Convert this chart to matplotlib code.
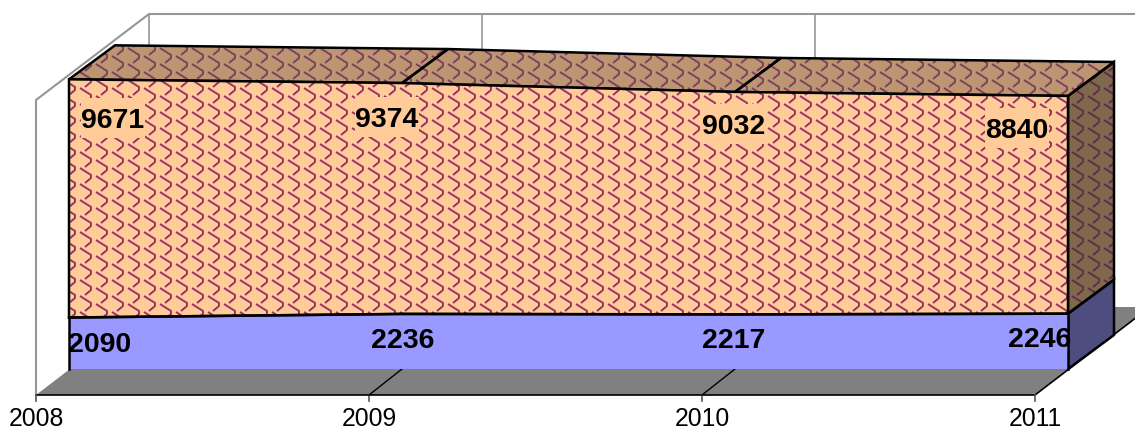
import matplotlib
matplotlib.use('Agg')
import matplotlib.pyplot as plt
from matplotlib.collections import LineCollection
from matplotlib.patches import Polygon, Rectangle
import numpy as np

years = ['2008', '2009', '2010', '2011']
lower = [2090, 2236, 2217, 2246]
upper = [9671, 9374, 9032, 8840]

# pixel geometry of the fake 3d box
X0, STEP = 69, 333
Y0, SCALE = 369, 0.02463
DX, DY = 46, -34
FLOOR_X, FLOOR_Y = 36, 395
WALL_DX, WALL_DY = 113, -86
WALL_H = 295

PEACH = '#FFCC99'
BLUE = '#9999FF'
FLOOR = '#808080'
GREY = '#969696'

plt.rcParams['font.family'] = ['Liberation Sans', 'DejaVu Sans']

fig = plt.figure(figsize=(11.35, 4.3), dpi=100)
ax = fig.add_axes([0, 0, 1, 1])
ax.set_xlim(0, 1135)
ax.set_ylim(430, 0)
ax.axis('off')


# category index + value + depth (0 front, 1 back) -> pixel position
def pt(i, v, d=0):
    return (X0 + STEP * i + DX * d, Y0 - SCALE * v + DY * d)


# scale pattern drawn over a polygon and clipped to it
def shingles(poly, color, z):
    segs = []
    for col in range(-2, 75):
        for row in range(-45, 30):
            x = col * 16
            y = row * 16 + col * 8
            segs.append([(x, y), (x + 11, y + 7), (x + 11, y + 10), (x + 5, y + 15)])
    lc = LineCollection(segs, colors=color, linewidths=1.4, zorder=z)
    ax.add_collection(lc)
    lc.set_clip_path(poly)


def face(points, color, z, hatch=None):
    poly = Polygon(points, closed=True, facecolor=color, edgecolor='none', zorder=z)
    ax.add_patch(poly)
    if hatch:
        shingles(poly, hatch, z + 0.1)
    ax.add_patch(Polygon(points, closed=True, facecolor='none', edgecolor='black', linewidth=1.8, zorder=z + 0.2))


n = len(years)
totals = [a + b for a, b in zip(lower, upper)]

# walls
wall_top = FLOOR_Y - WALL_H
ax.plot([FLOOR_X, FLOOR_X, FLOOR_X + WALL_DX, 1135], [FLOOR_Y, wall_top, wall_top + WALL_DY, wall_top + WALL_DY],
        color=GREY, lw=1.5, zorder=1, solid_joinstyle='miter')
for i in range(n - 1):
    gx = FLOOR_X + WALL_DX + STEP * i
    ax.plot([gx, gx], [wall_top + WALL_DY, FLOOR_Y + WALL_DY], color=GREY, lw=1.2, zorder=1)

# floor
end_x = FLOOR_X + STEP * (n - 1)
floor_pts = [(FLOOR_X, FLOOR_Y), (end_x, FLOOR_Y), (end_x + 115, FLOOR_Y - 88), (FLOOR_X + 115, FLOOR_Y - 88)]
ax.add_patch(Polygon(floor_pts, closed=True, facecolor=FLOOR, edgecolor='none', zorder=2))
ax.plot([FLOOR_X, end_x], [FLOOR_Y, FLOOR_Y], color='black', lw=1.2, zorder=3)
ax.plot([end_x, end_x + 115], [FLOOR_Y, FLOOR_Y - 88], color='black', lw=1.2, zorder=3)
for i in range(n):
    tx = FLOOR_X + STEP * i
    ax.plot([tx, tx], [FLOOR_Y, FLOOR_Y + 6], color='#555555', lw=1.2, zorder=3)
    if 0 < i < n - 1:
        ax.plot([tx, tx + 33], [FLOOR_Y, Y0], color='black', lw=1.0, zorder=3)
    ax.text(tx, 419, years[i], fontsize=17.8, ha='center', va='center', color='black', zorder=9)

# top faces
for i in range(n - 1):
    face([pt(i, totals[i]), pt(i + 1, totals[i + 1]), pt(i + 1, totals[i + 1], 1), pt(i, totals[i], 1)],
         '#BC9670', 4, '#7E3F62')

# right side
last = n - 1
face([pt(last, lower[last]), pt(last, totals[last]), pt(last, totals[last], 1), pt(last, lower[last], 1)],
     '#80684D', 4, '#5E2F4A')
face([pt(last, 0), pt(last, lower[last]), pt(last, lower[last], 1), pt(last, 0, 1)], '#4D4D80', 4)

# front faces
xs = list(range(n))
upper_pts = [pt(i, lower[i]) for i in xs] + [pt(i, totals[i]) for i in reversed(xs)]
face(upper_pts, PEACH, 5, '#993366')
front_low = [pt(i, 0) for i in xs] + [pt(i, lower[i]) for i in reversed(xs)]
poly = Polygon(front_low, closed=True, facecolor=BLUE, edgecolor='none', zorder=5)
ax.add_patch(poly)
ax.plot([pt(i, lower[i])[0] for i in xs], [pt(i, lower[i])[1] for i in xs], color='black', lw=1.8, zorder=6)
ax.plot([X0, X0], [pt(0, 0)[1], pt(0, lower[0])[1]], color='black', lw=1.8, zorder=6)
ax.plot([pt(last, 0)[0]] * 2, [pt(last, 0)[1], pt(last, lower[last])[1]], color='black', lw=1.8, zorder=6)

# value labels, offset by hand from the category positions
upper_off = [(44, 39), (-15, 34), (-1, 32), (-51, 32)]
lower_off = [(31, 24), (1, 24), (-1, 24), (-28, 23)]
for i in xs:
    x, y = pt(i, totals[i])
    lx, ly = x + upper_off[i][0], y + upper_off[i][1]
    ax.add_patch(Rectangle((lx - 32, ly - 20), 64, 40, facecolor=PEACH, edgecolor='none', zorder=7))
    ax.text(lx, ly, str(upper[i]), fontsize=20.5, fontweight='bold', ha='center', va='center_baseline', zorder=8)
    x, y = pt(i, lower[i])
    ax.text(x + lower_off[i][0], y + lower_off[i][1], str(lower[i]), fontsize=20.5, fontweight='bold',
            ha='center', va='center_baseline', zorder=8)

fig.savefig('out.png', dpi=100)
